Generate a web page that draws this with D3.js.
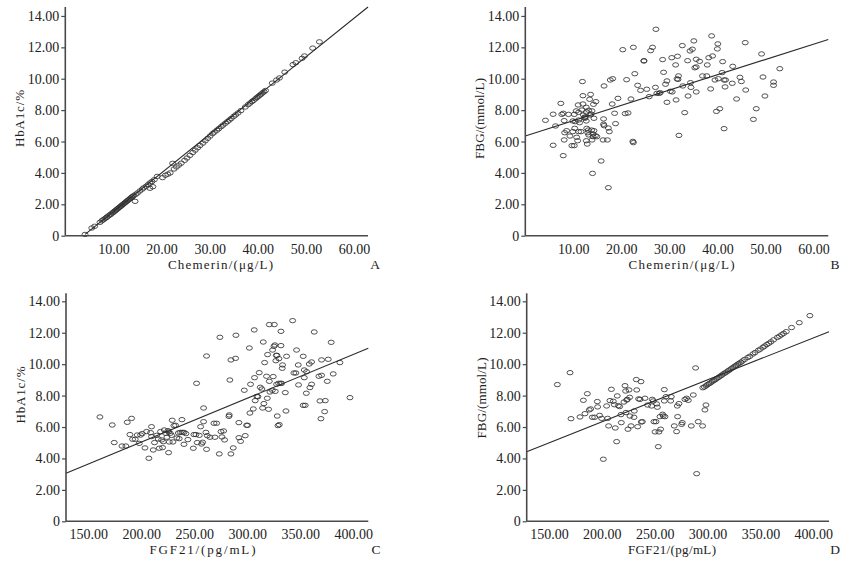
<!DOCTYPE html>
<html>
<head>
<meta charset="utf-8">
<script src="https://cdn.jsdelivr.net/npm/d3@7/dist/d3.min.js"></script>
<style>
  html, body { margin: 0; padding: 0; background: #fff; }
  svg { display: block; }
</style>
</head>
<body>
<svg id="chart" width="864" height="573"></svg>
<script>
// ---------- DATA ----------
const ticksChemerin = [10, 20, 30, 40, 50, 60];
const ticksFGF21 = [150, 200, 250, 300, 350, 400];
const ticksY = [0, 2, 4, 6, 8, 10, 12, 14];

// Panel A: Chemerin vs HbA1c
const chemerinA = [4.1,5.5,6.1,7.2,7.6,7.9,8.2,8.5,8.7,9.0,9.3,9.5,9.8,10.0,10.2,10.4,10.6,10.8,11.0,11.2,11.4,11.6,11.8,12.0,12.2,12.4,12.6,12.8,13.0,13.2,13.4,13.6,13.8,14.0,14.2,14.5,14.6,15.0,15.5,16.0,16.3,16.8,17.2,17.6,17.6,18.0,18.2,18.5,19.1,20.2,20.8,21.3,21.8,22.3,22.6,23.1,23.6,24.1,24.8,25.3,25.9,26.5,27.0,27.5,28.0,28.6,29.1,29.6,30.1,30.6,31.0,31.5,31.9,32.4,32.8,33.3,33.7,34.1,34.5,35.0,35.4,35.9,36.5,37.4,38.0,38.4,38.8,39.1,39.5,39.8,40.1,40.4,40.7,41.0,41.3,41.6,43.0,43.9,44.5,45.6,47.3,47.9,49.2,49.7,51.4,52.8];
const hba1cA = [0.08,0.49,0.6,0.85,0.95,1.02,1.08,1.15,1.2,1.27,1.33,1.38,1.45,1.5,1.55,1.6,1.65,1.7,1.75,1.8,1.85,1.9,1.95,2.0,2.05,2.1,2.15,2.2,2.25,2.3,2.35,2.4,2.45,2.5,2.55,2.19,2.63,2.72,2.85,2.97,3.05,3.15,3.25,3.02,3.36,3.45,3.12,3.57,3.78,3.7,3.85,3.92,4.0,4.61,4.25,4.38,4.5,4.62,4.8,4.95,5.12,5.3,5.45,5.6,5.75,5.9,6.05,6.2,6.35,6.5,6.6,6.72,6.82,6.95,7.05,7.17,7.27,7.37,7.47,7.6,7.7,7.82,7.97,8.2,8.35,8.45,8.55,8.62,8.72,8.8,8.87,8.95,9.02,9.1,9.17,9.25,9.72,9.92,10.05,10.42,10.9,11.02,11.3,11.45,11.95,12.35];
const fitA = { intercept: -0.93, slope: 0.2464, from: 4.1, to: 62.9 };

// Panel B: Chemerin vs FBG
const chemerinB = [4.2,5.8,5.8,6.3,7.4,7.6,7.9,7.9,8.1,8.2,8.1,8.6,9.0,9.3,9.7,9.9,9.9,10.2,10.2,10.3,10.4,10.6,10.7,10.9,11.1,11.0,11.1,11.1,11.3,11.6,11.8,11.9,12.0,12.0,12.1,12.3,12.4,12.5,12.7,12.7,12.7,12.8,12.9,12.7,13.0,13.2,13.1,13.2,13.4,13.5,13.6,13.7,13.8,13.9,13.9,14.0,14.1,14.1,14.2,14.3,14.3,14.6,14.7,14.9,15.8,16.4,16.3,16.3,16.4,16.2,17.1,17.3,17.3,17.5,17.7,18.2,18.1,18.6,18.8,19.3,20.3,20.8,21.1,21.4,22.0,22.4,22.5,22.5,22.8,23.4,24.0,24.7,24.7,25.3,25.8,26.1,26.5,27.1,27.2,27.4,27.9,28.1,28.6,28.8,29.2,29.5,29.5,30.2,30.5,30.6,31.3,31.4,31.6,31.7,31.8,31.9,32.0,32.7,32.8,33.2,33.8,33.9,34.3,34.4,34.5,34.8,35.1,35.3,35.6,35.6,35.6,36.3,36.9,37.8,37.9,38.2,38.6,38.8,39.0,39.5,39.8,40.0,40.1,40.2,40.5,41.0,41.1,41.4,41.4,41.6,41.7,43.2,43.1,44.0,44.7,45.0,45.8,45.9,47.5,48.1,49.2,49.5,49.9,51.7,51.7,53.0];
const fbgB = [7.35,7.74,5.76,6.99,8.43,7.73,7.8,5.1,6.1,6.56,7.33,6.69,7.73,6.35,5.74,6.63,7.31,7.73,5.74,6.84,7.27,7.95,6.27,6.05,7.86,8.33,7.37,6.63,7.2,6.63,8.01,9.82,8.92,8.39,7.69,7.54,7.48,7.56,8.18,7.88,7.31,6.84,5.84,6.05,6.56,7.99,6.73,6.42,8.69,7.69,9.0,7.75,6.73,6.1,7.95,3.97,6.31,6.48,8.37,6.69,7.48,6.37,8.54,6.31,4.76,9.54,7.1,7.44,7.01,6.1,6.1,3.06,6.86,6.63,9.92,10.0,8.39,7.8,7.14,8.75,11.85,7.78,9.94,7.82,8.71,6.01,5.93,12.0,10.32,9.58,9.26,11.13,11.15,9.33,8.86,11.79,12.0,9.45,13.15,9.07,9.07,9.11,11.22,10.41,9.65,9.86,8.5,9.2,11.34,9.16,10.88,8.65,9.99,11.43,9.96,10.18,6.39,12.11,9.54,7.84,11.15,8.9,11.77,9.75,9.45,11.88,12.41,10.7,10.75,9.16,11.24,11.11,10.18,10.18,10.88,11.34,9.35,12.73,11.45,9.92,7.92,11.9,12.22,10.0,8.09,10.39,11.09,6.82,9.92,9.48,9.92,10.79,9.71,8.71,10.09,9.82,12.3,9.28,7.41,8.09,11.58,10.11,8.9,9.79,9.58,10.64];
const fitB = { intercept: 6.35, slope: 0.0975, from: 0, to: 63.1 };

// Panel C: FGF21 vs HbA1c
const fgf21C = [161.0,172.6,174.5,181.8,185.5,186.8,189.3,190.9,191.8,194.3,196.2,198.1,199.4,200.9,203.5,205.0,207.2,208.8,209.7,209.7,211.3,212.5,214.5,216.0,217.0,218.2,219.2,220.1,220.8,221.7,223.0,224.2,225.2,225.8,225.8,226.4,227.4,228.6,229.2,229.9,230.8,232.4,233.6,235.0,235.8,236.8,238.4,238.7,240.3,240.3,242.1,244.0,249.1,249.7,251.6,252.2,252.8,254.7,256.0,256.9,257.9,258.8,258.8,261.0,261.6,261.6,262.3,264.8,268.6,269.5,271.1,273.6,274.2,275.2,276.1,277.7,278.6,282.7,283.0,283.6,284.6,284.6,286.8,289.0,289.3,292.1,292.1,293.7,298.1,297.2,299.4,300.3,302.0,302.5,303.1,305.7,306.6,306.9,307.5,309.1,310.1,311.3,312.3,313.8,314.5,315.1,315.7,316.4,318.2,318.9,319.2,320.1,320.8,320.8,321.4,323.6,323.9,324.5,325.2,325.5,326.1,326.4,327.0,327.4,327.7,328.0,328.3,329.0,329.6,329.9,330.2,331.4,331.8,331.8,332.4,333.0,333.3,335.9,336.5,337.1,342.8,344.0,345.9,346.5,348.1,348.4,352.8,352.8,353.8,353.8,354.7,355.7,356.0,358.5,359.1,360.7,360.7,363.2,367.6,368.6,369.5,370.1,370.1,373.0,373.6,375.5,376.4,379.2,381.1,387.4,396.9];
const hba1cC = [6.64,6.13,5.01,4.79,4.79,6.3,5.52,6.55,5.22,5.22,5.49,4.96,5.49,5.58,4.67,5.71,4.01,5.64,6.02,5.39,4.54,5.01,5.47,5.24,4.65,5.71,5.18,4.69,5.07,5.81,5.6,5.35,5.77,5.69,4.37,5.05,5.6,5.47,6.43,5.05,6.09,6.11,5.3,5.62,5.26,5.66,6.47,5.66,5.66,4.9,5.58,5.2,4.65,5.52,5.52,8.78,5.01,5.47,6.02,4.92,5.03,7.21,6.34,5.66,10.52,4.58,5.45,5.35,6.24,5.35,6.24,4.29,11.71,5.71,5.37,5.75,5.18,6.68,6.77,8.99,10.27,4.29,4.67,10.37,11.84,6.28,5.32,5.09,5.45,8.34,6.11,6.11,11.03,6.89,8.72,7.15,12.18,9.14,7.68,7.95,7.93,9.46,8.53,8.42,7.21,11.41,7.49,10.1,9.23,7.83,10.61,7.13,12.52,8.91,8.23,8.34,10.9,9.21,11.14,12.52,11.22,8.27,10.22,10.56,8.72,10.56,6.7,6.09,8.78,10.35,6.15,8.78,11.18,12.09,8.78,9.74,9.95,8.19,7.02,10.5,12.77,9.44,9.44,10.9,9.95,8.68,10.5,7.38,9.14,9.63,7.38,8.15,9.52,10.01,8.51,8.72,10.14,12.05,9.23,7.66,6.53,9.29,10.27,6.98,7.68,8.91,10.31,11.39,9.38,10.1,7.87];
const fitC = { intercept: -0.536, slope: 0.02788, from: 129, to: 414.2 };

// Panel D: FGF21 vs FBG
const fgf21D = [157.9,169.9,170.8,179.3,182.5,184.0,186.3,188.1,189.4,191.0,193.2,195.7,196.0,197.9,199.8,201.4,204.5,205.5,206.4,207.7,209.0,210.8,211.8,212.7,214.0,214.6,215.6,216.8,218.1,218.4,220.9,221.9,222.5,222.8,223.5,224.1,224.7,225.7,226.3,226.6,227.6,230.4,230.7,232.6,233.0,233.9,234.8,236.1,237.0,237.3,238.3,240.8,243.3,247.1,247.7,248.7,249.3,250.3,251.2,251.8,252.5,253.4,254.0,255.0,255.6,257.5,258.1,259.1,259.1,259.7,260.7,265.1,265.7,268.5,270.7,271.4,271.7,272.9,275.5,276.1,278.6,280.2,281.8,284.6,286.5,288.7,289.7,291.2,295.3,297.5,298.5,
  295.5,297.0,298.5,300.0,301.5,303.0,304.5,306.0,307.5,309.0,310.5,312.0,313.5,315.0,316.5,318.0,319.5,321.0,322.5,324.0,325.5,327.0,328.5,330.0,331.5,333.0,335.0,338.0,340.0,343.0,345.0,348.0,350.0,352.5,354.0,356.0,358.0,360.0,362.5,366.0,368.0,370.0,372.0,374.5,379.5,386.8,396.8];
const fbgD = [8.7,9.46,6.53,6.64,7.7,6.85,8.12,7.09,7.15,6.62,6.62,7.62,7.28,6.74,6.55,3.95,7.34,6.55,6.07,7.68,8.4,7.64,7.42,5.94,5.07,7.98,7.36,7.3,6.79,6.28,7.59,8.63,8.29,6.92,7.72,7.76,5.86,8.36,7.89,6.7,6.07,6.62,7.02,9.02,8.36,6.02,7.79,7.76,8.89,6.32,6.34,7.83,7.4,7.34,7.76,7.66,6.34,5.69,6.34,7.47,7.26,4.75,5.69,6.66,5.86,6.81,6.7,7.66,8.38,6.66,7.93,7.66,7.93,6.07,5.71,7.34,6.66,7.49,6.17,6.28,7.76,7.83,7.7,6.07,8.04,9.76,3.03,6.34,6.07,7.09,7.4,
  8.5,8.55,8.62,8.7,8.76,8.82,8.9,8.96,9.02,9.1,9.16,9.24,9.3,9.38,9.44,9.5,9.58,9.64,9.72,9.78,9.86,9.92,10.0,10.06,10.12,10.2,10.3,10.42,10.5,10.65,10.74,10.88,10.96,11.08,11.15,11.25,11.33,11.42,11.55,11.7,11.78,11.87,11.96,12.07,12.33,12.64,13.09];
const fitD = { intercept: 0.987, slope: 0.02671, from: 128.9, to: 414.9 };

// ---------- DRAW ----------
const svg = d3.select("#chart");
svg.append("rect").attr("width", 864).attr("height", 573).attr("fill", "#fff");

const panels = [
  { letter: "A", xs: chemerinA, ys: hba1cA, fit: fitA, xDomain: [0, 62.9], yDomain: [0, 14.57], xTicks: ticksChemerin,
    xTitle: "Chemerin/(μg/L)", yTitle: "HbA1c/%", xTitleLen: 105, yTitleLen: 57,
    left: 65.3, right: 368, top: 7, bottom: 235.7,
    xTitleX: 220.5, xTitleY: 269, yTitleX: 24, yTitleY: 118.5, letterX: 375, letterY: 269 },
  { letter: "B", xs: chemerinB, ys: fbgB, fit: fitB, xDomain: [0, 63.1], yDomain: [0, 14.57], xTicks: ticksChemerin,
    xTitle: "Chemerin/(μg/L)", yTitle: "FBG/(mmol/L)", xTitleLen: 106, yTitleLen: 81,
    left: 525.3, right: 828.3, top: 7, bottom: 235.7,
    xTitleX: 681.5, xTitleY: 269, yTitleX: 484, yTitleY: 118.5, letterX: 835, letterY: 269 },
  { letter: "C", xs: fgf21C, ys: hba1cC, fit: fitC, xDomain: [129, 414.2], yDomain: [0, 14.51], xTicks: ticksFGF21,
    xTitle: "FGF21/(pg/mL)", yTitle: "HbA1c/%", xTitleLen: 106, yTitleLen: 57,
    left: 66, right: 368.3, top: 293.3, bottom: 521.3,
    xTitleX: 202.5, xTitleY: 554, yTitleX: 25, yTitleY: 395, letterX: 376, letterY: 554 },
  { letter: "D", xs: fgf21D, ys: fbgD, fit: fitD, xDomain: [128.9, 414.9], yDomain: [0, 14.51], xTicks: ticksFGF21,
    xTitle: "FGF21/(pg/mL)", yTitle: "FBG/(mmol/L)", xTitleLen: 88, yTitleLen: 81,
    left: 526.7, right: 829, top: 293.3, bottom: 521.3,
    xTitleX: 672, xTitleY: 554, yTitleX: 485.5, yTitleY: 398, letterX: 835, letterY: 554 }
];

const fmt = v => v === 0 ? "0" : d3.format(".2f")(v);
const axisColor = "#4a4a4a";
const textColor = "#222";
const serif = "'Liberation Serif', 'DejaVu Serif', serif";

panels.forEach(p => {
  const x = d3.scaleLinear().domain(p.xDomain).range([p.left, p.right]);
  const y = d3.scaleLinear().domain(p.yDomain).range([p.bottom, p.top]);
  const g = svg.append("g");

  // points
  g.append("g").selectAll("ellipse")
    .data(d3.range(p.xs.length))
    .join("ellipse")
    .attr("cx", i => x(p.xs[i]))
    .attr("cy", i => y(p.ys[i]))
    .attr("rx", 3)
    .attr("ry", 2.2)
    .attr("fill", "none")
    .attr("stroke", "#333")
    .attr("stroke-width", 0.85);

  // regression line
  const f = p.fit;
  g.append("line")
    .attr("x1", x(f.from)).attr("y1", y(f.intercept + f.slope * f.from))
    .attr("x2", x(f.to)).attr("y2", y(f.intercept + f.slope * f.to))
    .attr("stroke", "#2a2a2a").attr("stroke-width", 1.1);

  // axes
  const xAxis = d3.axisBottom(x).tickValues(p.xTicks).tickFormat(fmt).tickSize(0).tickPadding(8);
  const yAxis = d3.axisLeft(y).tickValues(ticksY).tickFormat(fmt).tickSize(4).tickPadding(2);

  const gx = g.append("g").attr("transform", `translate(0,${p.bottom})`).call(xAxis);
  const gy = g.append("g").attr("transform", `translate(${p.left},0)`).call(yAxis);
  [gx, gy].forEach(a => {
    a.select(".domain").attr("stroke", axisColor).attr("stroke-width", 1.6);
    a.selectAll(".tick line").attr("stroke", axisColor).attr("stroke-width", 1.2);
    a.selectAll(".tick text").attr("fill", textColor).style("font-size", "14px").style("font-family", serif);
  });
  gx.select(".domain").attr("d", `M${p.left},0H${p.right}`);
  gy.select(".domain").attr("d", `M0,${p.bottom}V${p.top}`);

  // titles
  g.append("text")
    .attr("x", p.xTitleX).attr("y", p.xTitleY)
    .attr("text-anchor", "middle")
    .attr("textLength", p.xTitleLen).attr("lengthAdjust", "spacing")
    .attr("fill", textColor)
    .style("font-family", serif).style("font-size", "13px")
    .text(p.xTitle);
  g.append("text")
    .attr("transform", `translate(${p.yTitleX},${p.yTitleY}) rotate(-90)`)
    .attr("text-anchor", "middle")
    .attr("textLength", p.yTitleLen).attr("lengthAdjust", "spacing")
    .attr("fill", textColor)
    .style("font-family", serif).style("font-size", "13px")
    .text(p.yTitle);
  g.append("text")
    .attr("x", p.letterX).attr("y", p.letterY)
    .attr("text-anchor", "middle")
    .attr("fill", textColor)
    .style("font-family", serif).style("font-size", "13.5px")
    .text(p.letter);
});
</script>
</body>
</html>
